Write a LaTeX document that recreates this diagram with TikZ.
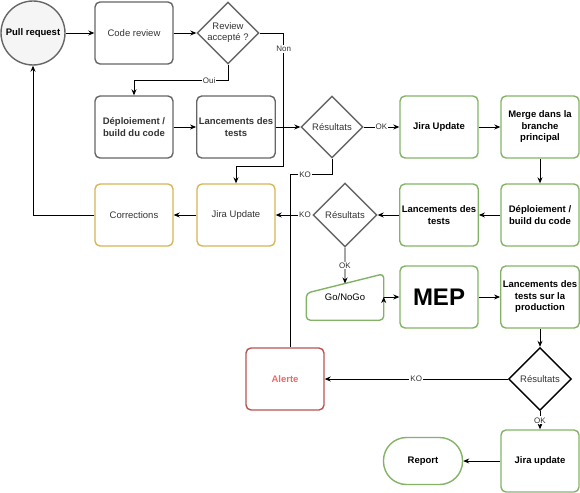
\documentclass[tikz,border=0pt]{standalone}
\usepackage{fontspec}
\setmainfont{Liberation Sans}
\usetikzlibrary{shapes.geometric,arrows.meta,calc}

\definecolor{greyline}{HTML}{666666}
\definecolor{greytext}{HTML}{333333}
\definecolor{greyfill}{HTML}{F5F5F5}
\definecolor{okgreen}{HTML}{82B366}
\definecolor{fixyellow}{HTML}{D6B656}
\definecolor{alertred}{HTML}{B85450}
\definecolor{alerttext}{HTML}{EA6B66}

\tikzset{
    stage/.style={
           rectangle,
           rounded corners=5pt,
           draw=greyline, line width=1.4pt,
           minimum width=78pt,
           minimum height=62pt,
           inner sep=2pt,
           align=center,
           font=\fontsize{9.5}{11.5}\selectfont,
           text=greytext
           },
    bold/.style={font=\bfseries\fontsize{9.5}{11.5}\selectfont},
    passed/.style={stage, draw=okgreen, text=black},
    fix/.style={stage, draw=fixyellow},
    check/.style={
           diamond,
           draw=greyline, line width=1.4pt,
           minimum width=62pt,
           minimum height=62pt,
           inner sep=0pt,
           align=center,
           font=\fontsize{9.5}{11}\selectfont,
           text=greytext
           },
    link/.style={->, draw=black, line width=0.8pt},
    tag/.style={fill=white, text=greytext, inner sep=1pt, font=\fontsize{8}{9}\selectfont},
}

\begin{document}
\begin{tikzpicture}[x=1pt, y=-1pt, >={Stealth[length=6pt,width=5pt]}]

            \useasboundingbox (0,0) rectangle (580,492);

            % review loop
            \node[stage, bold, circle, fill=greyfill, text=black, minimum size=64pt] (PR) at (33,33) {Pull request};
            \node[stage, right of=PR, node distance=101pt] (CR) {Code review};
            \node[check, right of=CR, node distance=94pt] (ACC) {Review\\accepté ?};

            \node[stage, bold, below of=CR, node distance=94pt] (BUILD) {Déploiement /\\build du code};
            \node[stage, bold, right of=BUILD, node distance=102pt] (TESTS) {Lancements des\\tests};
            \node[check, right of=TESTS, node distance=96pt] (RES) {Résultats};
            \node[passed, bold, right of=RES, node distance=107pt] (JIRA) {Jira Update};
            \node[passed, bold, right of=JIRA, node distance=101pt] (MERGE) {Merge dans la\\branche\\principal};

            \node[passed, bold, below of=MERGE, node distance=88pt] (DEPLOY) {Déploiement /\\build du code};
            \node[passed, bold, left of=DEPLOY, node distance=101pt] (RETEST) {Lancements des\\tests};
            \node[check, left of=RETEST, node distance=94pt, minimum size=64pt] (RES2) {Résultats};
            \node[fix, left of=RES2, node distance=109pt] (JIRAKO) {Jira Update};
            \node[fix, left of=JIRAKO, node distance=102pt] (FIX) {Corrections};

            % production
            \node[below of=RES2, node distance=82pt,
                  minimum width=77pt, minimum height=46pt, inner sep=0pt,
                  font=\fontsize{9.5}{11.5}\selectfont] (GO) {Go/NoGo};
            \draw[okgreen, line width=1.4pt, rounded corners=4pt]
                (GO.south west) -- ([yshift=27pt]GO.south west) -- (GO.north east) -- (GO.south east) -- cycle;
            \coordinate (GOTOP) at ($(GO.north east)!0.5!([yshift=27pt]GO.south west)$);

            \node[passed, below of=RETEST, node distance=82pt,
                  font=\bfseries\fontsize{24}{28}\selectfont] (MEP) {MEP};
            \node[passed, bold, below of=DEPLOY, node distance=82pt] (PROD) {Lancements des\\tests sur la\\production};
            \node[check, draw=black, below of=PROD, node distance=82pt, minimum size=63pt] (RES3) {Résultats};
            \node[stage, bold, draw=alertred, text=alerttext, left of=RES3, node distance=255pt] (ALERT) {Alerte};
            \node[passed, bold, below of=RES3, node distance=82pt] (JIRAOK) {Jira update};
            \node[passed, bold, rounded corners=23pt, minimum width=79pt, minimum height=47pt,
                  left of=JIRAOK, node distance=117pt] (REPORT) {Report};

            \path[link]
                (PR) edge (CR)
                (CR) edge (ACC)
                (BUILD) edge (TESTS)
                (TESTS) edge (RES)
                (RES) edge node[tag] {OK} (JIRA)
                (JIRA) edge (MERGE)
                (MERGE) edge (DEPLOY)
                (DEPLOY) edge (RETEST)
                (RETEST) edge (RES2)
                (RES2) edge node[tag, pos=0.2] {KO} (JIRAKO)
                (JIRAKO) edge (FIX)
                (RES2.south) edge node[tag] {OK} (GOTOP)
                (GO.east) edge (MEP)
                (MEP) edge (PROD)
                (PROD) edge (RES3)
                (RES3) edge node[tag] {KO} (ALERT)
                (RES3) edge node[tag] {OK} (JIRAOK)
                (JIRAOK) edge (REPORT)
                ;

            \draw[link] (ACC.south) -- ++(0,16) -| node[tag, pos=0.1] {Oui} (BUILD.north);
            \draw[link] (ACC.east) -| node[tag, pos=0.56] {Non} ++(24,133) -| (JIRAKO.north);
            \draw[link] (FIX.west) -| (PR.south);
            \draw[draw=black, line width=0.8pt]
                (RES.south) -- ++(0,16) -| node[tag, pos=0.32] {KO} ([xshift=5pt]ALERT.north);

\end{tikzpicture}
\end{document}
